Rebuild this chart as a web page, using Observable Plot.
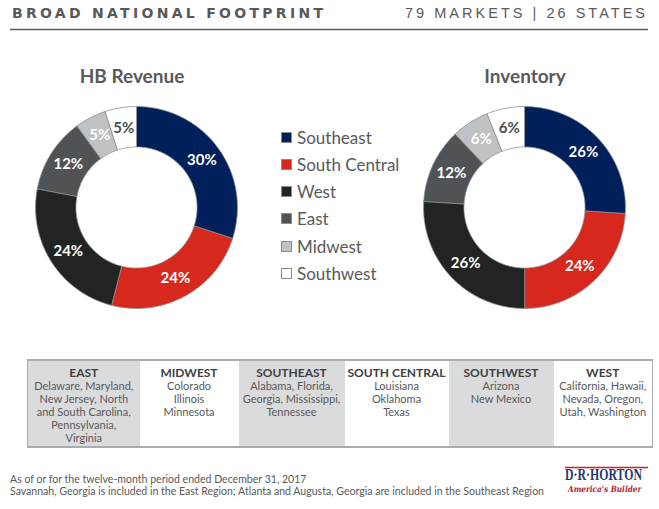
<!DOCTYPE html>
<html>
<head>
<meta charset="utf-8">
<script src="https://cdn.jsdelivr.net/npm/d3@7"></script>
<script src="https://cdn.jsdelivr.net/npm/@observablehq/plot@0.6"></script>
<style>
  html, body { margin: 0; padding: 0; background: #fff; }
  #page { position: relative; width: 659px; height: 509px; overflow: hidden; font-family: Lato, "Open Sans", sans-serif; }
  .abs { position: absolute; }
  .title { font-weight: bold; font-size: 19px; color: #595959; text-align: center; width: 200px; line-height: 20px; }
  .legend-item { position: absolute; left: 281px; height: 20px; display: flex; align-items: center; font-size: 17px; color: #595959; }
  .legend-item .sw { width: 9px; height: 9px; border: 1px solid #8a8d8f; margin-right: 5px; }
  table.regions { position: absolute; left: 27px; top: 359px; width: 625px; height: 89px; border-collapse: collapse; table-layout: fixed; border-top: 2px solid #a9adae; border-bottom: 2px solid #a9adae; border-left: 1px solid #a9adae; border-right: 1px solid #a9adae; box-sizing: border-box; }
  table.regions td { vertical-align: top; text-align: center; padding: 5px 2px 0 2px; font-size: 11px; line-height: 13px; color: #595959; }
  table.regions td b { color: #404040; font-size: 12px; display: block; }
  .foot { left: 10px; top: 474px; font-size: 10.55px; line-height: 11.5px; color: #595959; white-space: nowrap; }
</style>
</head>
<body>
<div id="page"></div>
<script>
// ---------- data ----------
const regions = ["Southeast", "South Central", "West", "East", "Midwest", "Southwest"];
const regionColors = ["#00205b", "#d7281e", "#222423", "#4f5356", "#bec2c4", "#ffffff"];
const labelDark = ["Southwest"];
const revenueValues = [30, 24, 24, 12, 5, 5];
const inventoryValues = [26, 24, 26, 12, 6, 6];
const chartTitles = ["HB Revenue", "Inventory"];

const tableHeaders = ["EAST", "MIDWEST", "SOUTHEAST", "SOUTH CENTRAL", "SOUTHWEST", "WEST"];
const tableStates = [
  ["Delaware, Maryland,", "New Jersey, North", "and South Carolina,", "Pennsylvania,", "Virginia"],
  ["Colorado", "Illinois", "Minnesota"],
  ["Alabama, Florida,", "Georgia, Mississippi,", "Tennessee"],
  ["Louisiana", "Oklahoma", "Texas"],
  ["Arizona", "New Mexico"],
  ["California, Hawaii,", "Nevada, Oregon,", "Utah, Washington"]
];
const tableWidths = [112, 99, 106, 104, 105, 99];
const tableShaded = [true, false, true, false, true, false];

const headerLeft = "BROAD NATIONAL FOOTPRINT";
const headerRight = "79 MARKETS | 26 STATES";
const footnotes = [
  "As of or for the twelve-month period ended December 31, 2017",
  "Savannah, Georgia is included in the East Region; Atlanta and Augusta, Georgia are included in the Southeast Region"
];
const logoName = "D·R·HORTON";
const logoTagline = "America's Builder";

const page = document.getElementById("page");

// ---------- header ----------
const ns = "http://www.w3.org/2000/svg";
const header = document.createElementNS(ns, "svg");
header.setAttribute("width", 659); header.setAttribute("height", 34);
header.setAttribute("class", "abs");
header.style.left = "0px"; header.style.top = "0px";
header.innerHTML = `
  <text x="12" y="17.5" font-family="DejaVu Sans" font-weight="bold" font-size="14" fill="#58595b" textLength="311" lengthAdjust="spacing">${headerLeft}</text>
  <text x="405" y="17.5" font-family="Liberation Sans, Arial" font-size="14.5" fill="#58595b" textLength="240" lengthAdjust="spacing">${headerRight}</text>
  <line x1="10" x2="648" y1="29.5" y2="29.5" stroke="#5a5a5a" stroke-width="1.3"/>`;
page.appendChild(header);

// ---------- donuts ----------
function donut(values) {
  const arcs = d3.pie().sort(null).value(d => d)(values);
  const inner = 0.6, outer = 1;
  const rows = [];
  arcs.forEach((a, i) => {
    const n = Math.max(4, Math.ceil((a.endAngle - a.startAngle) * 80));
    for (let k = 0; k <= n; k++) {
      const t = a.startAngle + (a.endAngle - a.startAngle) * k / n;
      rows.push({region: regions[i], x: outer * Math.sin(t), y: outer * Math.cos(t)});
    }
    for (let k = n; k >= 0; k--) {
      const t = a.startAngle + (a.endAngle - a.startAngle) * k / n;
      rows.push({region: regions[i], x: inner * Math.sin(t), y: inner * Math.cos(t)});
    }
  });
  const labels = arcs.map((a, i) => {
    const m = (a.startAngle + a.endAngle) / 2;
    return {region: regions[i], text: values[i] + "%", x: 0.8 * Math.sin(m), y: 0.8 * Math.cos(m)};
  });
  return Plot.plot({
    width: 212, height: 212, margin: 0,
    x: {domain: [-1.05, 1.05], axis: null},
    y: {domain: [-1.05, 1.05], axis: null},
    color: {domain: regions, range: regionColors},
    style: {background: "transparent", overflow: "visible"},
    marks: [
      Plot.line(rows, {x: "x", y: "y", z: "region", fill: "region", stroke: "#8a8d8f", strokeWidth: 0.8, curve: "linear-closed"}),
      Plot.text(labels.filter(d => !labelDark.includes(d.region)), {x: "x", y: "y", text: "text", fill: "white", fontSize: 15, fontWeight: "bold", fontFamily: "Lato"}),
      Plot.text(labels.filter(d => labelDark.includes(d.region)), {x: "x", y: "y", text: "text", fill: "#4a4d50", fontSize: 15, fontWeight: "bold", fontFamily: "Lato"})
    ]
  });
}

const centers = [[136, 207], [523.5, 207]];
[revenueValues, inventoryValues].forEach((vals, j) => {
  const p = donut(vals);
  p.classList.add("abs");
  p.style.left = (centers[j][0] - 106) + "px";
  p.style.top = (centers[j][1] - 106) + "px";
  page.appendChild(p);
  const t = document.createElement("div");
  t.className = "abs title";
  t.textContent = chartTitles[j];
  t.style.left = (centers[j][0] - 100 + (j === 0 ? -4 : 1.5)) + "px";
  t.style.top = "66px";
  page.appendChild(t);
});

// ---------- legend ----------
regions.forEach((r, i) => {
  const item = document.createElement("div");
  item.className = "legend-item";
  item.style.top = (127 + i * 27.3) + "px";
  const sw = document.createElement("span");
  sw.className = "sw";
  sw.style.background = regionColors[i];
  item.appendChild(sw);
  const tx = document.createElement("span");
  tx.textContent = r;
  item.appendChild(tx);
  page.appendChild(item);
});

// ---------- table ----------
const table = document.createElement("table");
table.className = "regions";
const colgroup = document.createElement("colgroup");
tableWidths.forEach(w => { const c = document.createElement("col"); c.style.width = w + "px"; colgroup.appendChild(c); });
table.appendChild(colgroup);
const tr = document.createElement("tr");
tableHeaders.forEach((h, i) => {
  const td = document.createElement("td");
  td.style.background = tableShaded[i] ? "#d9dbdc" : "#ffffff";
  td.innerHTML = `<b>${h}</b>` + tableStates[i].join("<br>");
  tr.appendChild(td);
});
table.appendChild(tr);
page.appendChild(table);

// ---------- footnotes ----------
const foot = document.createElement("div");
foot.className = "abs foot";
foot.innerHTML = footnotes.join("<br>");
page.appendChild(foot);

// ---------- logo ----------
const logo = document.createElementNS(ns, "svg");
logo.setAttribute("width", 95); logo.setAttribute("height", 40);
logo.setAttribute("class", "abs");
logo.style.left = "560px"; logo.style.top = "462px";
logo.innerHTML = `
  <line x1="5" x2="88" y1="5.5" y2="5.5" stroke="#c8202f" stroke-width="1.5"/>
  <g transform="translate(5,18) scale(0.74,1)">
    <text x="0" y="0" font-family="Liberation Serif" font-weight="bold" font-size="16" fill="#1f3a6e">${logoName}</text>
  </g>
  <g transform="translate(8,30) scale(0.86,1)">
    <text x="0" y="0" font-family="DejaVu Serif" font-style="italic" font-weight="bold" font-size="8.5" fill="#b3212b">${logoTagline}</text>
  </g>`;
page.appendChild(logo);
</script>
</body>
</html>
